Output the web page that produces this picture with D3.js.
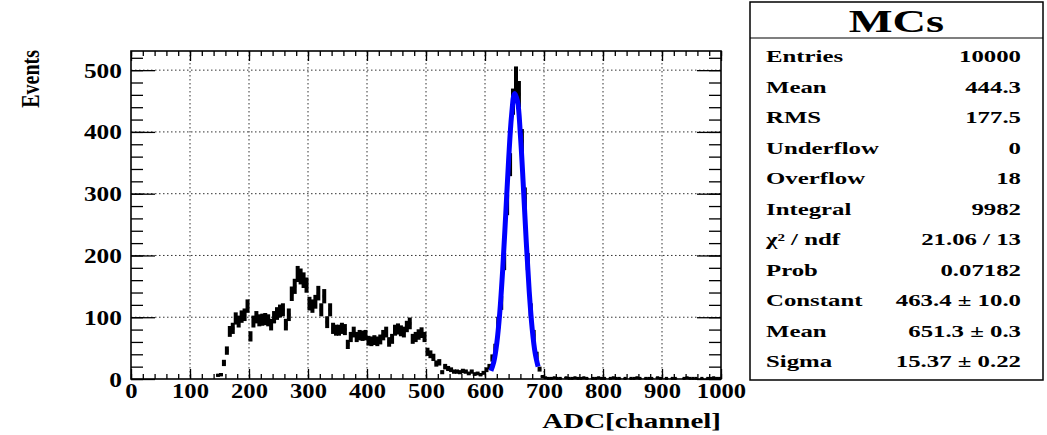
<!DOCTYPE html>
<html lang="en">
<head>
<meta charset="UTF-8">
<title>MCs</title>
<script src="https://cdn.jsdelivr.net/npm/d3@7"></script>
<style>
    body { margin: 0; background: #fff; }
    text { font-family: "Liberation Serif", "DejaVu Serif", serif; font-weight: bold; fill: #000; }
    .grid line { stroke: #333; stroke-width: 1; stroke-dasharray: 1.5,2.5; }
    .axis path { display: none; }
    .axis line { stroke: #000; stroke-width: 1.3; }
</style>
</head>
<body>
<script>
// histogram: 200 bins of 5 channels, counts
var binWidth = 5;
var counts = [
    0,0,0,0,0,0,0,0,0,0, 0,0,0,0,0,0,0,0,0,0, 0,0,0,0,0,0,0,0,0,6,      // 0-145
    7,26,46,77,82,98,93,101,104,118,                                    // 150-195
    69,93,100,95,96,97,95,88,100,106,                                   // 200-245
    110,112,88,104,138,150,170,166,160,152,                             // 250-295
    122,118,125,139,112,134,92,112,82,79,                               // 300-345
    79,82,80,56,68,76,68,71,70,71,                                      // 350-395
    62,61,63,61,64,71,76,60,65,79,                                      // 400-445
    81,78,76,85,90,65,68,72,75,68,                                      // 450-495
    44,40,35,25,27,11,20,17,15,12,                                      // 500-545
    12,11,13,12,9,12,8,9,7,10,                                          // 550-595
    15,20,34,50,91,123,190,282,347,449,                                 // 600-645
    484,461,385,293,190,112,71,38,16,4,                                 // 650-695
    2,1,1,2,1,1,0,2,1,1, 2,1,1,2,1,0,1,1,2,1,                          // 700-795
    1,0,1,2,1,1,0,1,0,1, 1,2,1,0,1,1,1,0,2,1,                          // 800-895
    0,1,0,1,1,0,0,1,2,1, 1,1,0,1,0,1,1,2,1,1                           // 900-995
];

// gaussian fit curve (blue), read at 5-channel steps
var fitX = [610,615,620,625,630,635,640,645,650,655,660,665,670,675,680,685,690];
var fitY = [13,28,58,107,177,264,354,426,462,450,395,312,221,141,81,42,20];

var xTicks = [0,100,200,300,400,500,600,700,800,900,1000];
var yTicks = [0,100,200,300,400,500];

var statLabels = ["Entries","Mean","RMS","Underflow","Overflow","Integral","\u03c7\u00b2 / ndf","Prob","Constant","Mean","Sigma"];
var statValues = ["10000","444.3","177.5","0","18","9982","21.06 / 13","0.07182","463.4 \u00b1 10.0","651.3 \u00b1 0.3","15.37 \u00b1 0.22"];

var width = 1047, height = 435;
var frame = {left:131, right:721, top:51, bottom:379};

var svg = d3.select("body").append("svg")
    .attr("width", width).attr("height", height);

var x = d3.scaleLinear().domain([0,1000]).range([frame.left, frame.right]);
var y = d3.scaleLinear().domain([0,531]).range([frame.bottom, frame.top]);

// grid
var grid = svg.append("g").attr("class","grid");
grid.selectAll(".gx").data(xTicks.slice(1,-1)).enter().append("line")
    .attr("x1", d => x(d)).attr("x2", d => x(d))
    .attr("y1", frame.top).attr("y2", frame.bottom);
grid.selectAll(".gy").data(yTicks.slice(1)).enter().append("line")
    .attr("x1", frame.left).attr("x2", frame.right)
    .attr("y1", d => y(d)).attr("y2", d => y(d));

// ticks (inside the frame, on all four sides)
var minorX = d3.range(0,1001,20), minorY = d3.range(0,531,20);
function addAxis(axis, tx, ty) {
    return svg.append("g").attr("class","axis")
        .attr("transform","translate(" + tx + "," + ty + ")").call(axis);
}
addAxis(d3.axisBottom(x).tickValues(minorX).tickSize(-5).tickFormat(""), 0, frame.bottom);
addAxis(d3.axisTop(x).tickValues(minorX).tickSize(-5).tickFormat(""), 0, frame.top);
addAxis(d3.axisTop(x).tickValues(xTicks).tickSize(-10).tickFormat(""), 0, frame.top);
addAxis(d3.axisLeft(y).tickValues(minorY).tickSize(-12).tickFormat(""), frame.left, 0);
addAxis(d3.axisRight(y).tickValues(minorY).tickSize(-12).tickFormat(""), frame.right, 0);
addAxis(d3.axisRight(y).tickValues(yTicks).tickSize(-24).tickFormat(""), frame.right, 0);

var xAxis = addAxis(d3.axisBottom(x).tickValues(xTicks).tickSize(-10).tickPadding(3).tickFormat(d3.format("d")), 0, frame.bottom);
xAxis.selectAll("text").style("font-size","22px").attr("fill","#000")
    .attr("transform","scale(1.12,1)");

var yAxis = addAxis(d3.axisLeft(y).tickValues(yTicks).tickSize(-24).tickPadding(8).tickFormat(d3.format("d")), frame.left, 0);
yAxis.selectAll("text").style("font-size","22px").attr("fill","#000")
    .attr("transform","scale(1.15,1)");

// frame
svg.append("rect")
    .attr("x", frame.left).attr("y", frame.top)
    .attr("width", frame.right - frame.left).attr("height", frame.bottom - frame.top)
    .attr("fill","none").attr("stroke","#000").attr("stroke-width",1.6);

// data points with sqrt(N) error bars
var bins = counts.map((c,i) => ({lo: i*binWidth, hi: (i+1)*binWidth, n: c}))
    .filter(d => d.n > 0);
var pts = svg.append("g");
pts.selectAll(".ev").data(bins).enter().append("line")
    .attr("x1", d => x(d.lo + binWidth/2)).attr("x2", d => x(d.lo + binWidth/2))
    .attr("y1", d => y(d.n + Math.sqrt(d.n))).attr("y2", d => y(Math.max(0, d.n - Math.sqrt(d.n))))
    .attr("stroke","#000").attr("stroke-width",4);
pts.selectAll(".eh").data(bins).enter().append("line")
    .attr("x1", d => x(d.lo)).attr("x2", d => x(d.hi))
    .attr("y1", d => y(d.n)).attr("y2", d => y(d.n))
    .attr("stroke","#000").attr("stroke-width",3);

// fit
var fitLine = d3.line().x(d => x(d[0])).y(d => y(d[1])).curve(d3.curveCatmullRom);
svg.append("path")
    .datum(fitX.map((v,i) => [v, fitY[i]]))
    .attr("d", fitLine)
    .attr("fill","none").attr("stroke","#0000ff").attr("stroke-width",5);

// axis titles
svg.append("text")
    .attr("transform","translate(39,50) rotate(-90) scale(1,1.3)")
    .attr("text-anchor","end").style("font-size","20px")
    .text("Events");
svg.append("text")
    .attr("transform","translate(721,428) scale(1.38,1)")
    .attr("text-anchor","end").style("font-size","21px")
    .text("ADC[channel]");

// stats box
var box = {x:750, y:2, w:293, h:378};
svg.append("rect")
    .attr("x", box.x).attr("y", box.y).attr("width", box.w).attr("height", box.h)
    .attr("fill","#fff").attr("stroke","#000").attr("stroke-width",1.5);
svg.append("line")
    .attr("x1", box.x).attr("x2", box.x + box.w).attr("y1", 38).attr("y2", 38)
    .attr("stroke","#000").attr("stroke-width",1.2);
svg.append("text")
    .attr("transform","translate(" + (box.x + box.w/2) + ",32) scale(1.45,1)")
    .attr("text-anchor","middle").style("font-size","32px")
    .text("MCs");

var rowY = d3.scaleLinear().domain([0, statLabels.length - 1]).range([62, 367]);
svg.selectAll(".sl").data(statLabels).enter().append("text")
    .attr("transform", (d,i) => "translate(766," + rowY(i) + ") scale(1.55,1)")
    .style("font-size","16px")
    .text(d => d);
svg.selectAll(".sv").data(statValues).enter().append("text")
    .attr("transform", (d,i) => "translate(1021," + rowY(i) + ") scale(1.55,1)")
    .attr("text-anchor","end")
    .style("font-size","16px")
    .text(d => d);
</script>
</body>
</html>
